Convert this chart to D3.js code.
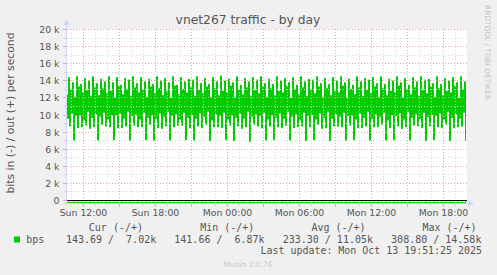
<!DOCTYPE html>
<html>
<head>
<meta charset="utf-8">
<script src="https://cdn.jsdelivr.net/npm/d3@7"></script>
<style>
body { margin: 0; background: #f0f0f0; }
svg { display: block; }
text { font-family: "DejaVu Sans", sans-serif; }
.mono { font-family: "DejaVu Sans Mono", monospace; white-space: pre; }
</style>
</head>
<body>
<svg id="chart" width="497" height="275"></svg>
<script>
// samples every 5 minutes, first one at Sun 10:40
var startTime = new Date(2025, 9, 12, 10, 40);
var stepMinutes = 5;

// out traffic (+), kbit/s
var outKbps = [
  12.4, 9.6, 14.4, 8.7, 13.0, 10.2, 13.8, 7.0,
  12.1, 9.9, 14.5, 8.5, 13.3, 10.0, 13.6, 8.6,
  12.6, 9.4, 14.3, 8.8, 12.9, 10.4, 14.0, 8.4,
  12.2, 9.7, 14.5, 8.6, 13.2, 10.1, 13.7, 7.0,
  12.3, 9.8, 14.2, 8.9, 13.1, 10.3, 13.9, 8.7,
  12.5, 9.5, 14.5, 8.6, 12.8, 10.0, 13.8, 7.1,
  12.0, 10.0, 14.4, 8.5, 13.4, 10.2, 13.5, 8.5,
  12.4, 9.6, 14.3, 8.7, 13.0, 10.4, 14.1, 7.0,
  12.2, 9.9, 14.5, 8.8, 13.2, 10.1, 13.7, 8.6,
  12.6, 9.5, 14.4, 8.6, 12.9, 10.3, 13.9, 7.1,
  12.1, 9.7, 14.2, 8.9, 13.3, 10.0, 13.6, 7.0,
  12.5, 9.6, 14.5, 8.5, 13.1, 10.2, 14.0, 8.4,
  12.3, 9.8, 14.3, 8.7, 12.8, 10.4, 13.8, 7.0,
  12.0, 9.9, 14.5, 8.6, 13.4, 10.1, 13.5, 8.8,
  12.4, 9.5, 14.4, 8.8, 13.0, 10.3, 13.9, 7.1,
  12.6, 9.7, 14.2, 8.5, 13.2, 10.0, 14.1, 7.0,
  12.2, 9.6, 14.5, 8.7, 12.9, 10.2, 13.7, 8.5,
  12.5, 9.8, 14.3, 8.9, 13.3, 10.4, 13.6, 7.0,
  12.1, 9.4, 14.4, 8.6, 13.1, 10.1, 13.9, 8.6,
  12.3, 9.9, 14.58, 8.5, 12.8, 10.3, 14.0, 7.1,
  12.6, 9.5, 14.2, 8.8, 13.4, 10.0, 13.8, 7.0,
  12.0, 9.7, 14.5, 8.7, 13.0, 10.2, 13.5, 8.4,
  12.4, 9.6, 14.3, 8.6, 13.2, 10.4, 13.9, 6.87,
  12.2, 9.8, 14.4, 8.9, 12.9, 10.1, 14.1, 8.7,
  12.5, 9.9, 14.5, 8.5, 13.3, 10.3, 13.7, 7.0,
  12.1, 9.5, 14.2, 8.7, 13.1, 10.0, 13.6, 7.1,
  12.3, 9.7, 14.5, 8.6, 12.8, 10.2, 14.0, 8.5,
  12.6, 9.6, 14.3, 8.8, 13.4, 10.4, 13.8, 7.0,
  12.0, 9.8, 14.4, 8.5, 13.0, 10.1, 13.5, 8.6,
  12.4, 9.4, 14.5, 8.7, 13.2, 10.3, 13.9, 7.0,
  12.2, 9.9, 14.2, 8.6, 12.9, 10.0, 14.1, 7.1,
  12.5, 9.5, 14.5, 8.9, 13.3, 10.2, 13.7, 8.4,
  12.1, 9.7, 14.3, 8.5, 13.1, 10.4, 13.6, 7.0,
  12.3, 9.6, 14.4, 8.7, 12.8, 10.1, 14.0, 8.7,
  12.6, 9.8, 14.5, 8.6, 13.4, 10.3, 13.8, 7.0,
  12.0, 9.9, 14.2, 8.8, 13.0, 10.0, 13.5, 7.1,
  12.4, 9.5, 14.5, 8.5, 13.2, 10.2, 13.9, 8.5,
  12.2, 9.7, 14.3, 8.7, 12.9, 10.4, 14.1, 7.0,
  12.5, 9.6, 14.4, 8.6, 13.3, 10.1, 13.7, 8.6,
  12.1, 9.8, 14.5, 8.9, 13.1, 10.3, 13.6, 7.0,
  12.3, 9.4, 14.2, 8.5, 12.8, 10.0, 14.0, 7.1,
  12.6, 9.9, 14.5, 8.7, 13.4, 10.2, 13.8, 8.4,
  12.0, 9.5, 14.3, 8.6, 13.0, 10.4, 13.5, 7.0,
  12.4, 9.7, 14.4, 8.8, 13.2, 10.1, 13.9, 8.7,
  12.2, 9.6, 14.5, 8.5, 12.9, 10.3, 14.1, 7.0,
  12.5, 9.8, 14.2, 8.7, 13.3, 10.0, 13.7, 7.1,
  12.1, 9.9, 14.5, 8.6, 13.1, 10.2, 13.6, 8.5,
  12.3, 9.5, 14.3, 8.9, 12.8, 10.4, 14.0, 7.0,
  12.6, 9.7, 14.4, 8.5, 13.4, 10.1, 13.8, 8.6,
  12.0, 9.6, 14.5, 8.7, 13.0, 10.3, 13.9, 7.02
];

// in traffic (-), bit/s
var inBps = [
  252, 190, 301, 178, 268, 211, 289, 153,
  247, 194, 296, 172, 273, 207, 284, 158,
  256, 186, 304, 181, 263, 215, 292, 149,
  249, 192, 299, 175, 270, 209, 287, 155,
  254, 188, 306, 179, 266, 213, 291, 151,
  245, 195, 297, 173, 271, 206, 285, 160,
  258, 184, 302, 182, 264, 216, 293, 147,
  250, 191, 300, 176, 269, 210, 288, 154,
  253, 189, 305, 180, 267, 212, 290, 152,
  246, 196, 295, 171, 274, 205, 283, 159,
  257, 185, 303, 183, 262, 217, 294, 148,
  251, 193, 298, 174, 272, 208, 286, 156,
  255, 187, 307, 178, 265, 214, 292, 150,
  248, 194, 296, 172, 270, 207, 284, 157,
  259, 183, 301, 181, 263, 216, 295, 146,
  250, 190, 299, 176, 268, 210, 288, 153,
  254, 188, 304, 179, 266, 212, 291, 151,
  247, 195, 297, 173, 273, 206, 285, 158,
  256, 186, 302, 182, 264, 215, 293, 149,
  249, 192, 300, 175, 270, 209, 287, 155,
  253, 189, 308.8, 180, 267, 213, 290, 152,
  245, 196, 295, 171, 274, 205, 283, 160,
  258, 184, 303, 183, 262, 217, 294, 147,
  251, 191, 298, 174, 271, 208, 286, 156,
  255, 187, 306, 178, 265, 214, 292, 150,
  248, 193, 296, 172, 269, 207, 284, 157,
  257, 185, 301, 181, 263, 216, 295, 148,
  250, 190, 299, 176, 268, 210, 288, 154,
  254, 188, 304, 179, 266, 212, 291, 141.66,
  246, 195, 297, 173, 272, 206, 285, 159,
  256, 186, 302, 182, 264, 215, 293, 149,
  249, 192, 300, 175, 270, 209, 287, 155,
  253, 189, 305, 180, 267, 213, 290, 152,
  247, 196, 295, 171, 273, 205, 283, 158,
  258, 184, 303, 183, 262, 217, 294, 146,
  251, 191, 298, 174, 271, 208, 286, 156,
  255, 187, 306, 178, 265, 214, 292, 150,
  248, 194, 296, 172, 269, 207, 284, 157,
  257, 185, 301, 181, 263, 216, 295, 148,
  250, 190, 299, 176, 268, 210, 288, 153,
  254, 188, 304, 179, 266, 212, 291, 151,
  246, 195, 297, 173, 272, 206, 285, 159,
  256, 186, 302, 182, 264, 215, 293, 149,
  249, 192, 300, 175, 270, 209, 287, 155,
  253, 189, 305, 180, 267, 213, 290, 152,
  247, 196, 295, 171, 273, 205, 283, 158,
  258, 184, 303, 183, 262, 217, 294, 147,
  251, 191, 298, 174, 271, 208, 286, 156,
  255, 187, 306, 178, 265, 214, 292, 150,
  248, 193, 296, 172, 269, 207, 284, 143.69
];

var yMajorTicks = [0, 2, 4, 6, 8, 10, 12, 14, 16, 18, 20];
var yMinorTicks = [1, 3, 5, 7, 9, 11, 13, 15, 17, 19];
var yTickLabels = ["0", "2 k", "4 k", "6 k", "8 k", "10 k", "12 k", "14 k", "16 k", "18 k", "20 k"];

var legendHeads = ["Cur (-/+)", "Min (-/+)", "Avg (-/+)", "Max (-/+)"];
var legendValues = ["143.69 /  7.02k", "141.66 /  6.87k", "233.30 / 11.05k", "308.80 / 14.58k"];
var seriesName = "bps";
var lastUpdate = "Last update: Mon Oct 13 19:51:25 2025";

var svg = d3.select("#chart");
var plotL = 67, plotR = 467, plotT = 29, plotB = 203;
var green = "#00cc00";
var axisCol = "#cfd6f8";
var minorCol = "#d6d6d6";
var majorCol = "#e6a8a8";
var fontCol = "#555";

var endTime = new Date(startTime.getTime() + outKbps.length * stepMinutes * 60000);
var x = d3.scaleTime().domain([startTime, endTime]).range([plotL + 0.5, plotR + 0.5]);
var y = d3.scaleLinear().domain([-0.35, 20]).range([plotB + 0.5, plotT + 0.5]);
function crisp(v) { return Math.round(v - 0.5) + 0.5; }
function tAt(i) { return new Date(startTime.getTime() + i * stepMinutes * 60000); }

svg.append("rect").attr("width", 497).attr("height", 275).attr("fill", "#f0f0f0");
svg.append("rect").attr("x", plotL).attr("y", plotT)
    .attr("width", plotR - plotL).attr("height", plotB - plotT + 1).attr("fill", "#fff");

//数据线, rrdtool 每个采样画成一个台阶
var line = d3.line()
    .curve(d3.curveStepBefore)
    .x(function (d, i) { return x(tAt(i)); })
    .y(function (d) { return y(d); });

svg.append("path")
    .datum(outKbps)
    .attr("d", line)
    .attr("fill", "none")
    .attr("stroke", green)
    .attr("stroke-width", 1);

svg.append("path")
    .datum(inBps.map(function (v) { return -v / 1000; }))
    .attr("d", line)
    .attr("fill", "none")
    .attr("stroke", green)
    .attr("stroke-width", 1);

// grid on top of data, like rrdtool
var hours = d3.timeHour.range(d3.timeHour.ceil(startTime), endTime);
var majorHours = hours.filter(function (d) { return d.getHours() % 3 === 0; });
var labelHours = hours.filter(function (d) { return d.getHours() % 6 === 0; });
var minorHours = hours.filter(function (d) { return d.getHours() % 3 !== 0; });

var g = svg.append("g");
g.selectAll("line.ymin").data(yMinorTicks).enter().append("line")
    .attr("x1", plotL).attr("x2", plotR)
    .attr("y1", function (d) { return crisp(y(d)); })
    .attr("y2", function (d) { return crisp(y(d)); })
    .attr("stroke", minorCol).attr("stroke-dasharray", "1,2");
g.selectAll("line.xmin").data(minorHours).enter().append("line")
    .attr("x1", function (d) { return crisp(x(d)); })
    .attr("x2", function (d) { return crisp(x(d)); })
    .attr("y1", plotT).attr("y2", plotB)
    .attr("stroke", minorCol).attr("stroke-dasharray", "1,2");
g.selectAll("line.ymaj").data(yMajorTicks.slice(1)).enter().append("line")
    .attr("x1", plotL).attr("x2", plotR)
    .attr("y1", function (d) { return crisp(y(d)); })
    .attr("y2", function (d) { return crisp(y(d)); })
    .attr("stroke", majorCol).attr("stroke-dasharray", "1,2");
g.selectAll("line.xmaj").data(majorHours).enter().append("line")
    .attr("x1", function (d) { return crisp(x(d)); })
    .attr("x2", function (d) { return crisp(x(d)); })
    .attr("y1", plotT).attr("y2", plotB)
    .attr("stroke", majorCol).attr("stroke-dasharray", "1,2");

// tick marks outside the canvas
g.selectAll("line.ytick").data(yMinorTicks).enter().append("line")
    .attr("x1", 64).attr("x2", 67)
    .attr("y1", function (d) { return crisp(y(d)); })
    .attr("y2", function (d) { return crisp(y(d)); })
    .attr("stroke", minorCol);
g.selectAll("line.ytickM").data(yMajorTicks).enter().append("line")
    .attr("x1", 63).attr("x2", 67)
    .attr("y1", function (d) { return crisp(y(d)); })
    .attr("y2", function (d) { return crisp(y(d)); })
    .attr("stroke", majorCol);
g.selectAll("line.xtick").data(minorHours).enter().append("line")
    .attr("x1", function (d) { return crisp(x(d)); })
    .attr("x2", function (d) { return crisp(x(d)); })
    .attr("y1", plotB).attr("y2", plotB + 3)
    .attr("stroke", minorCol);
g.selectAll("line.xtickM").data(majorHours).enter().append("line")
    .attr("x1", function (d) { return crisp(x(d)); })
    .attr("x2", function (d) { return crisp(x(d)); })
    .attr("y1", plotB).attr("y2", plotB + 4)
    .attr("stroke", majorCol);

// zero line
svg.append("line")
    .attr("x1", plotL).attr("x2", plotR)
    .attr("y1", crisp(y(0))).attr("y2", crisp(y(0)))
    .attr("stroke", "#000");

// axes with arrows
svg.append("line").attr("x1", plotL - 0.5).attr("x2", plotL - 0.5)
    .attr("y1", plotB + 3).attr("y2", 23).attr("stroke", axisCol);
svg.append("path").attr("d", "M63.5,25L66.5,19L69.5,25Z").attr("fill", axisCol);
svg.append("line").attr("x1", plotL - 4).attr("x2", plotR + 3)
    .attr("y1", plotB + 0.5).attr("y2", plotB + 0.5).attr("stroke", axisCol);
svg.append("path").attr("d", "M468,200.5L474,203.5L468,206.5Z").attr("fill", axisCol);

// tick labels
svg.selectAll("text.ylab").data(yMajorTicks).enter().append("text")
    .attr("x", 59.5)
    .attr("y", function (d) { return crisp(y(d)) + 3.2; })
    .attr("text-anchor", "end")
    .attr("font-size", 9.33)
    .attr("fill", fontCol)
    .text(function (d, i) { return yTickLabels[i]; });

var fmt = d3.timeFormat("%a %H:%M");
svg.selectAll("text.xlab").data(labelHours).enter().append("text")
    .attr("x", function (d) { return x(d); })
    .attr("y", 215.5)
    .attr("text-anchor", "middle")
    .attr("font-size", 9.33)
    .attr("fill", fontCol)
    .text(function (d) { return fmt(d); });

// title and side texts
svg.append("text").attr("x", 248).attr("y", 24)
    .attr("text-anchor", "middle").attr("font-size", 12.3)
    .attr("fill", fontCol)
    .text("vnet267 traffic - by day");

svg.append("text")
    .attr("transform", "translate(14,113) rotate(-90)")
    .attr("text-anchor", "middle").attr("font-size", 10.8)
    .attr("fill", fontCol)
    .text("bits in (-) / out (+) per second");

svg.append("text")
    .attr("transform", "translate(484.5,5) rotate(90)")
    .attr("font-size", 7.4)
    .attr("fill", "#c4c4c4")
    .text("RRDTOOL / TOBI OETIKER");

svg.append("text").attr("x", 248).attr("y", 267)
    .attr("text-anchor", "middle").attr("font-size", 7.4)
    .attr("fill", "#c8c8c8")
    .text("Munin 2.0.76");

// legend
var headX = [88.8, 200.2, 311.4, 422.4];
var valX = [65.9, 174.3, 282.7, 391.1];
svg.selectAll("text.head").data(legendHeads).enter().append("text")
    .attr("class", "mono")
    .attr("x", function (d, i) { return headX[i]; })
    .attr("y", 231)
    .attr("font-size", 10)
    .attr("fill", fontCol)
    .text(function (d) { return d; });

svg.append("rect").attr("x", 14).attr("y", 236.5).attr("width", 6).attr("height", 6)
    .attr("fill", green);
svg.append("text").attr("class", "mono").attr("x", 26.2).attr("y", 243)
    .attr("font-size", 10).attr("fill", fontCol).text(seriesName);

svg.selectAll("text.val").data(legendValues).enter().append("text")
    .attr("class", "mono")
    .attr("x", function (d, i) { return valX[i]; })
    .attr("y", 243)
    .attr("font-size", 10)
    .attr("fill", fontCol)
    .text(function (d) { return d; });

svg.append("text").attr("class", "mono").attr("x", 260.6).attr("y", 254)
    .attr("font-size", 9.95).attr("fill", fontCol).text(lastUpdate);
</script>
</body>
</html>
